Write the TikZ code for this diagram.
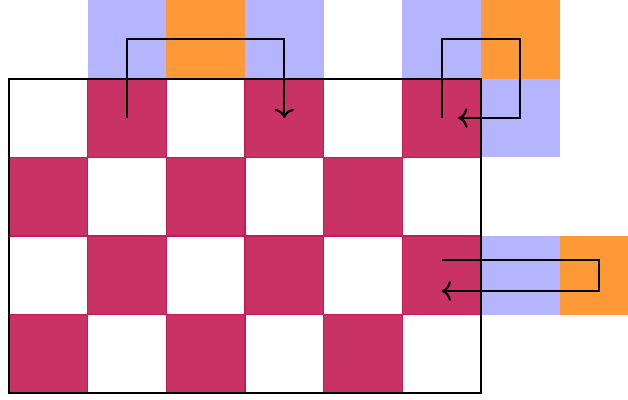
\documentclass[tikz,border=0pt]{standalone}
\definecolor{cherry}{RGB}{201,50,100}
\definecolor{cherryline}{RGB}{196,28,86}
\definecolor{lilac}{RGB}{180,180,255}
\definecolor{tangerine}{RGB}{253,153,55}
\usetikzlibrary{arrows.meta,calc}

\begin{document}
\begin{tikzpicture}[
    cell/.style={minimum size=1cm,inner sep=0pt,outer sep=0pt},
    dark/.style={cell,fill=cherry,draw=cherryline,thin},
    light/.style={cell},
    lil/.style={cell,fill=lilac},
    tan/.style={cell,fill=tangerine},
    walk/.style={->,thick,black}]
        \useasboundingbox (-0.114,-0.076) rectangle (7.869,5);
        % board
        \foreach \i in {0,...,5}
          \foreach \j in {0,...,3}{
            \pgfmathtruncatemacro\odd{mod(\i+\j,2)}
            \ifnum\odd=1 \node[dark] (g\i\j) at (\i+0.5,3.5-\j) {};
            \else \node[light] (g\i\j) at (\i+0.5,3.5-\j) {}; \fi
          }
        % cells outside the board
        \node[lil] (t1) at (1.5,4.5) {};
        \node[tan] (t2) at (2.5,4.5) {};
        \node[lil] (t3) at (3.5,4.5) {};
        \node[lil] (t5) at (5.5,4.5) {};
        \node[tan] (t6) at (6.5,4.5) {};
        \node[lil] (s60) at (6.5,3.5) {};
        \node[lil] (s62) at (6.5,1.5) {};
        \node[tan] (s72) at (7.5,1.5) {};
        \draw[thick] (g00.north west) rectangle (g53.south east);
        % moves
        \draw[walk] (g10.center) |- (t3.center) -- (g30.center);
        \draw[walk,shorten >=0.21cm] (g50.center) -- (t5.center) -- (t6.center)
          -- (s60.center) -- (g50.center);
        \draw[walk] ([yshift=2mm]g52.center) -- ([yshift=2mm]s72.center)
          -- ([yshift=-2mm]s72.center) -- ([yshift=-2mm]g52.center);
      \end{tikzpicture}
\end{document}
